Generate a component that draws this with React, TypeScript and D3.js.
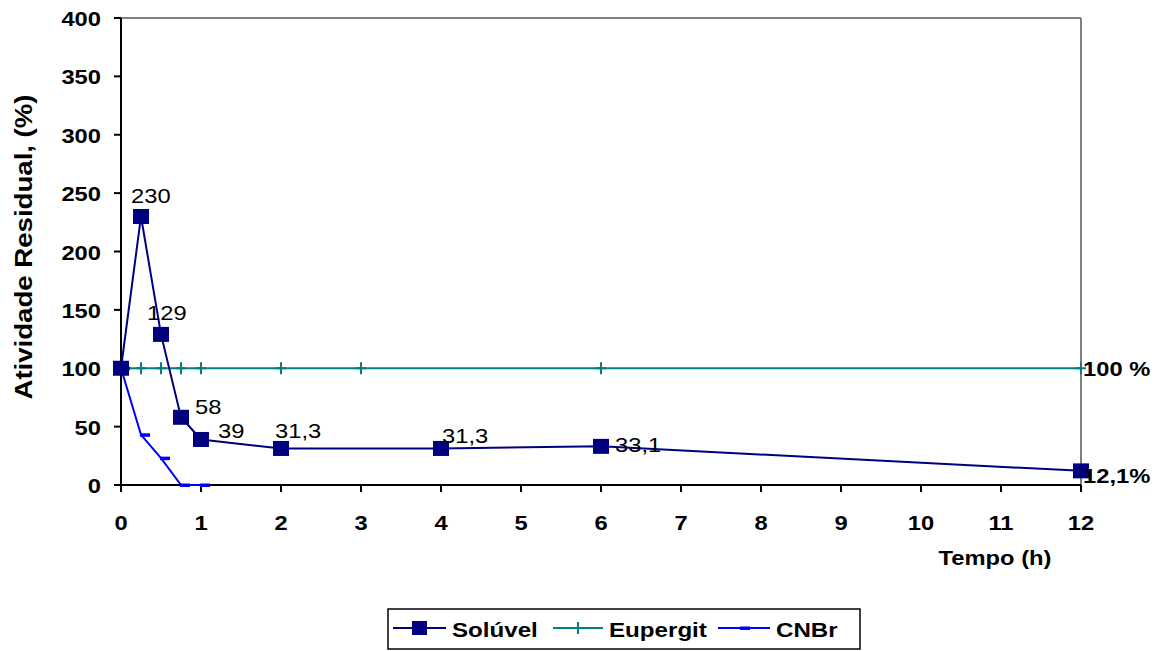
import React from "react";
import * as d3 from "d3";

const solTimes = [0, 0.25, 0.5, 0.75, 1, 2, 4, 6, 12];
const solValues = [100, 230, 129, 58, 39, 31.3, 31.3, 33.1, 12.1];
const solLabels = ["", "230", "129", "58", "39", "31,3", "31,3", "33,1", "12,1%"];

const eupTimes = [0, 0.25, 0.5, 0.75, 1, 2, 3, 6, 12];
const eupValues = [100, 100, 100, 100, 100, 100, 100, 100, 100];

const cnbrTimes = [0, 0.25, 0.5, 0.75, 1];
const cnbrValues = [100, 43, 23, 0, 0];

const xTicks = [0, 1, 2, 3, 4, 5, 6, 7, 8, 9, 10, 11, 12];
const yTicks = [0, 50, 100, 150, 200, 250, 300, 350, 400];

const W = 1160, H = 651;
const L = 121, R = 1081, T = 18, B = 485;
const font = "'Liberation Sans', Arial, sans-serif";

function Txt(props: { x: number; y: number; size: number; sx?: number; anchor?: string; bold?: boolean; rot?: number; children: any }) {
  const { x, y, size, sx = 1.13, anchor = "start", bold = false, rot = 0, children } = props;
  return (
    <text
      transform={`translate(${x},${y}) rotate(${rot}) scale(${sx},1)`}
      textAnchor={anchor}
      fontSize={size}
      fontWeight={bold ? "bold" : "normal"}
      fill="#000"
    >
      {children}
    </text>
  );
}

export default function App() {
  const x = d3.scaleLinear().domain([0, 12]).range([L, R]);
  const y = d3.scaleLinear().domain([0, 400]).range([B, T]);
  const line = d3.line<[number, number]>().x(d => x(d[0])).y(d => y(d[1]));
  const sol = solTimes.map((t, i) => [t, solValues[i]] as [number, number]);
  const eup = eupTimes.map((t, i) => [t, eupValues[i]] as [number, number]);
  const cn = cnbrTimes.map((t, i) => [t, cnbrValues[i]] as [number, number]);
  const labelOff: Record<number, [number, number]> = {
    1: [-10, -13], 2: [-14, -14], 3: [14, -3], 4: [17, -1], 5: [-6, -10], 6: [1, -5], 7: [14, 6],
  };
  return (
    <svg width={W} height={H} style={{ position: "absolute", left: 0, top: 0, fontFamily: font }}>
      <rect x={0} y={0} width={W} height={H} fill="#fff" />
      <line x1={L} y1={T} x2={R} y2={T} stroke="#808080" strokeWidth={2} />
      <line x1={R} y1={T} x2={R} y2={B} stroke="#808080" strokeWidth={2} />
      {yTicks.map(v => (
        <g key={"y" + v}>
          <line x1={L - 7} x2={L} y1={y(v)} y2={y(v)} stroke="#000" strokeWidth={2} />
          <Txt x={L - 20} y={y(v) + 8} size={21} anchor="end" bold>{v}</Txt>
        </g>
      ))}
      {xTicks.map(v => (
        <g key={"x" + v}>
          <line x1={x(v)} x2={x(v)} y1={B} y2={B + 7} stroke="#000" strokeWidth={2} />
          <Txt x={x(v)} y={B + 45} size={21} anchor="middle" bold>{v}</Txt>
        </g>
      ))}
      <line x1={L} y1={T} x2={L} y2={B} stroke="#000" strokeWidth={2} />
      <line x1={L - 7} y1={T} x2={L} y2={T} stroke="#000" strokeWidth={2} />
      <line x1={L} y1={B} x2={R} y2={B} stroke="#000" strokeWidth={2} />
      <Txt x={32} y={247} size={23} anchor="middle" bold rot={-90} sx={1.2}>Atividade Residual, (%)</Txt>
      <Txt x={995} y={565} size={21} anchor="middle" bold>Tempo (h)</Txt>

      <path d={line(eup) || ""} fill="none" stroke="#008080" strokeWidth={2} />
      {eup.map((p, i) => (
        <g key={"e" + i} stroke="#008080" strokeWidth={2}>
          <line x1={x(p[0]) - 5} x2={x(p[0]) + 5} y1={y(p[1])} y2={y(p[1])} />
          <line x1={x(p[0])} x2={x(p[0])} y1={y(p[1]) - 6} y2={y(p[1]) + 6} />
        </g>
      ))}
      <path d={line(cn) || ""} fill="none" stroke="#0000ff" strokeWidth={2} />
      {cn.map((p, i) => (
        <rect key={"c" + i} x={x(p[0]) - 1} y={y(p[1]) - 1.5} width={10} height={3.5} fill="#0000ff" />
      ))}
      <path d={line(sol) || ""} fill="none" stroke="#000080" strokeWidth={2} />
      {sol.map((p, i) => (
        <rect key={"s" + i} x={x(p[0]) - 8} y={y(p[1]) - 7.5} width={16} height={15} fill="#000080" />
      ))}
      {sol.map((p, i) => i > 0 && i < 8 ? (
        <Txt key={"l" + i} x={x(p[0]) + labelOff[i][0]} y={y(p[1]) + labelOff[i][1]} size={21}>{solLabels[i]}</Txt>
      ) : null)}
      <Txt x={x(12) + 2} y={y(12.1) + 12} size={21} bold>{solLabels[8]}</Txt>
      <Txt x={x(12) + 2} y={y(100) + 8} size={21} bold>100 %</Txt>

      <rect x={388} y={609} width={472} height={40} fill="#fff" stroke="#000" strokeWidth={1.5} />
      <g>
        <line x1={393} x2={446} y1={628} y2={628} stroke="#000080" strokeWidth={2} />
        <rect x={412} y={621} width={15} height={14} fill="#000080" />
        <Txt x={452} y={637} size={21} bold sx={1.15}>Solúvel</Txt>
        <line x1={553} x2={603} y1={628} y2={628} stroke="#008080" strokeWidth={2} />
        <line x1={578} x2={578} y1={622} y2={634} stroke="#008080" strokeWidth={2} />
        <Txt x={609} y={637} size={21} bold sx={1.15}>Eupergit</Txt>
        <line x1={718} x2={770} y1={628} y2={628} stroke="#0000ff" strokeWidth={2} />
        <rect x={740} y={626.5} width={10} height={3.5} fill="#0000ff" />
        <Txt x={776} y={637} size={21} bold sx={1.15}>CNBr</Txt>
      </g>
    </svg>
  );
}
